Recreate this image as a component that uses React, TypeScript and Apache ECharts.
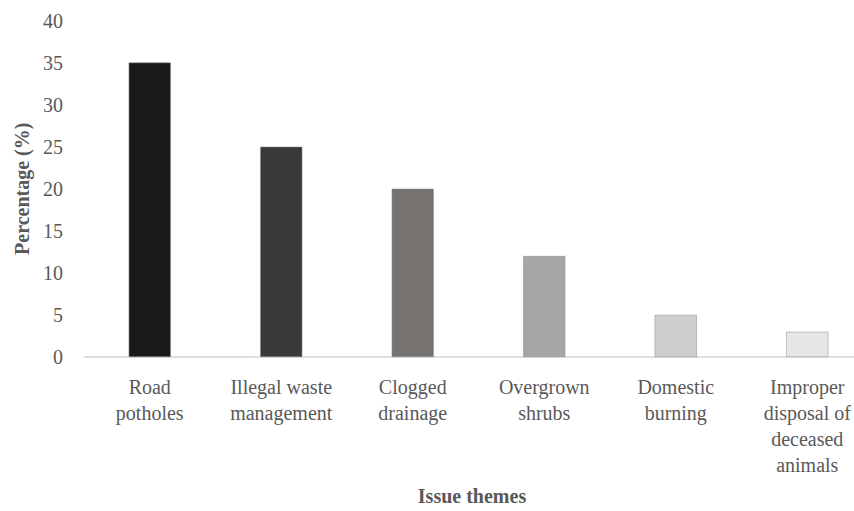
import React, { useEffect, useRef } from "react";
import * as echarts from "echarts";

const categories = [
  "Road\npotholes",
  "Illegal waste\nmanagement",
  "Clogged\ndrainage",
  "Overgrown\nshrubs",
  "Domestic\nburning",
  "Improper\ndisposal of\ndeceased\nanimals",
];
const values = [35, 25, 20, 12, 5, 3];
const barColors = ["#1a1a1a", "#3b3938", "#767270", "#a8a6a4", "#d0cfcf", "#e6e6e6"];
const yTicks = { min: 0, max: 40, interval: 5 };

export default function App() {
  const ref = useRef<HTMLDivElement>(null);
  useEffect(() => {
    if (!ref.current) return;
    const chart = echarts.init(ref.current, null, { renderer: "svg" });
    const font = "Times New Roman, Liberation Serif, serif";
    chart.setOption({
      animation: false,
      backgroundColor: "#ffffff",
      textStyle: { fontFamily: font },
      grid: { left: 84, top: 20.5, width: 789, height: 340.5, containLabel: false },
      xAxis: {
        type: "category",
        data: categories,
        name: "Issue themes",
        nameLocation: "middle",
        nameGap: 129,
        nameTextStyle: {
          fontFamily: font,
          fontWeight: "bold",
          fontSize: 20,
          color: "#595959",
          padding: [0, 13, 0, 0],
        },
        axisLine: { lineStyle: { color: "#d4d4d4", width: 1.5 } },
        axisTick: { show: false },
        axisLabel: {
          fontFamily: font,
          fontSize: 20,
          color: "#595959",
          lineHeight: 26,
          margin: 17,
          interval: 0,
        },
      },
      yAxis: {
        type: "value",
        min: yTicks.min,
        max: yTicks.max,
        interval: yTicks.interval,
        name: "Percentage (%)",
        nameLocation: "middle",
        nameGap: 49,
        nameTextStyle: {
          fontFamily: font,
          fontWeight: "bold",
          fontSize: 20,
          color: "#595959",
        },
        splitLine: { show: false },
        axisLine: { show: false },
        axisTick: { show: false },
        axisLabel: {
          fontFamily: font,
          fontSize: 20,
          color: "#595959",
          margin: 21,
        },
      },
      series: [
        {
          type: "bar",
          barWidth: "32%",
          data: values.map((v, i) => ({
            value: v,
            itemStyle: { color: barColors[i], borderColor: "#8c8c8c", borderWidth: 0.5 },
          })),
        },
      ],
    });
    return () => chart.dispose();
  }, []);
  return (
    <div style={{ position: "fixed", left: 0, top: 0, width: 854, height: 511, overflow: "hidden", background: "#fff" }}>
      <div ref={ref} style={{ width: 880, height: 511 }} />
    </div>
  );
}
